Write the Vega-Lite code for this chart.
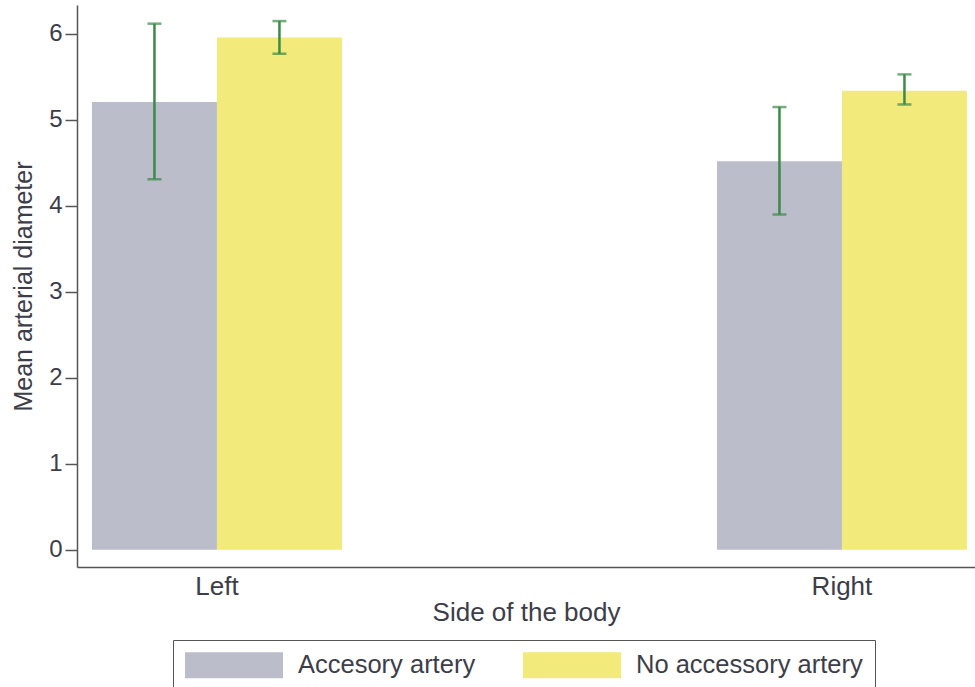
{
  "$schema": "https://vega.github.io/schema/vega-lite/v6.json",
  "width": 898,
  "height": 562,
  "autosize": {"type": "none"},
  "padding": {"left": 77, "top": 5, "right": 0, "bottom": 120},
  "background": "white",
  "data": {
    "values": [
      {"side": "Left", "group": "Accesory artery", "mean": 5.21, "lo": 4.31, "hi": 6.12},
      {"side": "Left", "group": "No accessory artery", "mean": 5.96, "lo": 5.77, "hi": 6.15},
      {"side": "Right", "group": "Accesory artery", "mean": 4.52, "lo": 3.90, "hi": 5.15},
      {"side": "Right", "group": "No accessory artery", "mean": 5.34, "lo": 5.18, "hi": 5.53}
    ]
  },
  "encoding": {
    "x": {
      "field": "side",
      "type": "nominal",
      "scale": {"paddingInner": 0.6, "paddingOuter": 0.0184, "align": 0.65},
      "axis": {
        "title": "Side of the body",
        "labelAngle": 0,
        "ticks": false,
        "labelPadding": 6,
        "labelFontSize": 26,
        "titlePadding": 0,
        "titleFontSize": 26,
        "domainColor": "#555555",
        "domainWidth": 1.5
      }
    },
    "xOffset": {"field": "group", "type": "nominal", "scale": {"paddingInner": 0, "paddingOuter": 0}}
  },
  "layer": [
    {
      "mark": {"type": "bar"},
      "encoding": {
        "y": {
          "field": "mean",
          "type": "quantitative",
          "scale": {"domain": [-0.2, 6.337], "zero": false, "nice": false},
          "axis": {"title": "Mean arterial diameter", "values": [0, 1, 2, 3, 4, 5, 6], "format": "d", "tickSize": 12, "labelPadding": 3, "labelFontSize": 24, "titleFontSize": 25, "titlePadding": 12}
        },
        "y2": {"datum": 0},
        "color": {
          "field": "group",
          "type": "nominal",
          "scale": {"domain": ["Accesory artery", "No accessory artery"], "range": ["#bbbdca", "#f2ea7a"]},
          "legend": {
            "title": null,
            "orient": "none",
            "legendX": 96,
            "legendY": 635,
            "direction": "horizontal",
            "columns": 2,
            "symbolType": "M-1,-1H6.54V1H-1Z",
            "symbolSize": 676,
            "symbolStrokeWidth": 0,
            "symbolOpacity": 1,
            "labelFontSize": 25.5,
            "labelOffset": 87,
            "labelLimit": 400,
            "columnPadding": 47,
            "padding": 12,
            "strokeColor": "#555555",
            "labelColor": "#3d3d4a",
            "labelFont": "Liberation Sans"
          }
        }
      }
    },
    {
      "mark": {"type": "rule", "color": "#3b8a48", "strokeWidth": 2.5},
      "encoding": {
        "y": {"field": "lo", "type": "quantitative"},
        "y2": {"field": "hi"}
      }
    },
    {
      "mark": {"type": "tick", "color": "#3b8a48", "size": 14, "thickness": 2.5},
      "encoding": {
        "y": {"field": "lo", "type": "quantitative"}
      }
    },
    {
      "mark": {"type": "tick", "color": "#3b8a48", "size": 14, "thickness": 2.5},
      "encoding": {
        "y": {"field": "hi", "type": "quantitative"}
      }
    }
  ],
  "config": {
    "view": {"stroke": null},
    "font": "Liberation Sans",
    "axis": {
      "grid": false,
      "domainColor": "#555555",
      "domainWidth": 1.5,
      "tickColor": "#555555",
      "tickWidth": 1.5,
      "labelColor": "#3d3d4a",
      "labelFont": "Liberation Sans",
      "titleFontWeight": "normal",
      "titleColor": "#3d3d4a",
      "titleFont": "Liberation Sans"
    }
  }
}
